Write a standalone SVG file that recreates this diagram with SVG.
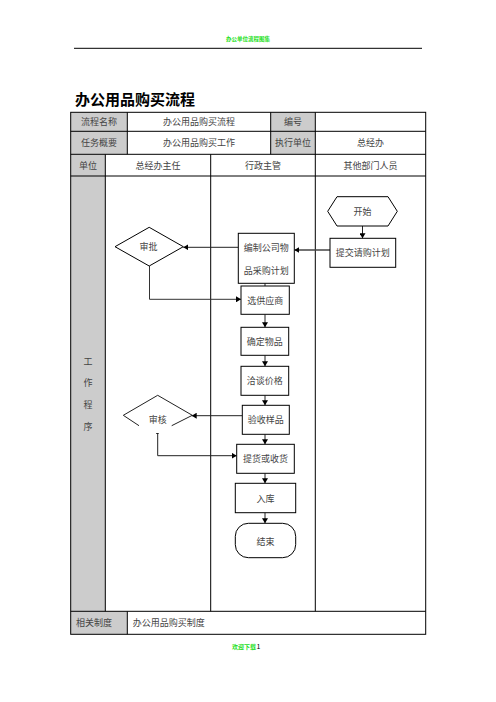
<svg xmlns="http://www.w3.org/2000/svg" width="496" height="702" viewBox="0 0 496 702">
<style>
text{font-family:"Noto Sans CJK SC","Noto Sans",sans-serif;}
.t{font-size:9px;fill:#444;text-anchor:middle;dominant-baseline:central;}
.tl{font-size:9px;fill:#444;dominant-baseline:central;}
.g{fill:#cccccc;}
.b{fill:none;stroke:#000;stroke-width:1;}
.n{fill:#fff;stroke:#000;stroke-width:1;}
.c{fill:none;stroke:#222;stroke-width:1;}
.green{fill:#22e01a;font-weight:bold;text-anchor:middle;}
</style>
<defs>
<marker id="ah" markerWidth="6" markerHeight="6" refX="5" refY="3" orient="auto" markerUnits="userSpaceOnUse">
<path d="M0,0 L5,3 L0,6 Z" fill="#000"/>
</marker>
</defs>
<rect width="496" height="702" fill="#fff"/>
<g id="page-header">
<text class="green" x="248" y="41" font-size="5.5">办公单位流程图集</text>
<line x1="74" y1="48.3" x2="422" y2="48.3" stroke="#000" stroke-width="1"/>
</g>
<g id="title">
<text x="75" y="105" font-size="15" font-weight="bold" fill="#000">办公用品购买流程</text>
</g>
<g id="table">
<rect class="g" x="70.7" y="112.3" width="56.6" height="42"/>
<rect class="g" x="270.7" y="112.3" width="44.6" height="42"/>
<rect class="g" x="70.7" y="154.3" width="34.6" height="457"/>
<rect class="g" x="70.7" y="611.3" width="56.6" height="23"/>
<rect class="b" x="70.7" y="112.3" width="355" height="522"/>
<line class="b" x1="70.7" y1="131.3" x2="425.7" y2="131.3"/>
<line class="b" x1="70.7" y1="154.3" x2="425.7" y2="154.3"/>
<line class="b" x1="70.7" y1="176" x2="425.7" y2="176"/>
<line class="b" x1="70.7" y1="611.3" x2="425.7" y2="611.3"/>
<line class="b" x1="127.3" y1="112.3" x2="127.3" y2="154.3"/>
<line class="b" x1="270.7" y1="112.3" x2="270.7" y2="154.3"/>
<line class="b" x1="315.3" y1="112.3" x2="315.3" y2="611.3"/>
<line class="b" x1="105.3" y1="154.3" x2="105.3" y2="611.3"/>
<line class="b" x1="210.7" y1="154.3" x2="210.7" y2="611.3"/>
<line class="b" x1="127.3" y1="611.3" x2="127.3" y2="634.3"/>
<text class="t" x="99" y="121.8">流程名称</text>
<text class="t" x="199" y="121.8">办公用品购买流程</text>
<text class="t" x="293" y="121.8">编号</text>
<text class="t" x="99" y="142.8">任务概要</text>
<text class="t" x="199" y="142.8">办公用品购买工作</text>
<text class="t" x="293" y="142.8">执行单位</text>
<text class="t" x="370.5" y="142.8">总经办</text>
<text class="t" x="88" y="165">单位</text>
<text class="t" x="158" y="165">总经办主任</text>
<text class="t" x="263" y="165">行政主管</text>
<text class="t" x="370.5" y="165">其他部门人员</text>
<text class="t" x="88" y="361.7">工</text>
<text class="t" x="88" y="382.7">作</text>
<text class="t" x="88" y="404.3">程</text>
<text class="t" x="88" y="426.7">序</text>
<text class="tl" x="76" y="622.8">相关制度</text>
<text class="tl" x="132.7" y="622.8">办公用品购买制度</text>
</g>
<g id="connectors">
<line class="c" x1="362.5" y1="226" x2="362.5" y2="238.3" marker-end="url(#ah)"/>
<line x1="330" y1="250" x2="294.3" y2="250" stroke="#444" stroke-width="1.5" marker-end="url(#ah)"/>
<line class="c" x1="238.3" y1="247.3" x2="183.3" y2="247.3" marker-end="url(#ah)"/>
<polyline points="149.5,266 149.5,299.3 241,299.3" fill="none" stroke="#333" stroke-width="1" marker-end="url(#ah)"/>
<line class="c" x1="265" y1="283.3" x2="265" y2="286"/>
<line class="c" x1="265" y1="314.3" x2="265" y2="327.3" marker-end="url(#ah)"/>
<line class="c" x1="265" y1="355.3" x2="265" y2="366.3" marker-end="url(#ah)"/>
<line class="c" x1="265" y1="395.3" x2="265" y2="405.3" marker-end="url(#ah)"/>
<line class="c" x1="242.3" y1="415.7" x2="191.7" y2="415.7" marker-end="url(#ah)"/>
<line class="c" x1="265" y1="434.3" x2="265" y2="444.3" marker-end="url(#ah)"/>
<line class="c" x1="156.2" y1="433.5" x2="158.7" y2="433.5"/>
<polyline points="157.7,433.5 157.7,455.7 236.7,455.7" fill="none" stroke="#222" stroke-width="1" marker-end="url(#ah)"/>
<line class="c" x1="265" y1="473.3" x2="265" y2="483.3" marker-end="url(#ah)"/>
<line class="c" x1="265" y1="512.7" x2="265" y2="523.3" marker-end="url(#ah)"/>
</g>
<g id="start">
<polygon class="n" points="327.7,211.3 337,196.7 388,196.7 397.3,211.3 388,226 337,226"/>
<text class="t" x="362.5" y="211.3">开始</text>
</g>
<g id="submit-plan">
<rect class="n" x="330" y="238.3" width="65.7" height="29"/>
<text class="t" x="362.8" y="252.8">提交请购计划</text>
</g>
<g id="compile-plan">
<rect class="n" x="238.3" y="233.3" width="56" height="50"/>
<text class="t" x="266.3" y="247.7">编制公司物</text>
<text class="t" x="266.3" y="270">品采购计划</text>
</g>
<g id="approve">
<polygon class="n" points="115,246.7 149.2,227.3 183.3,246.7 149.2,266"/>
<text class="t" x="148.5" y="246.7">审批</text>
</g>
<g id="select-supplier">
<rect class="n" x="241" y="286" width="48.3" height="28.3"/>
<text class="t" x="265.2" y="300.2">选供应商</text>
</g>
<g id="confirm-items">
<rect class="n" x="241" y="327.3" width="47.7" height="28"/>
<text class="t" x="264.8" y="341.3">确定物品</text>
</g>
<g id="negotiate-price">
<rect class="n" x="241" y="366.3" width="47.7" height="29"/>
<text class="t" x="264.8" y="380.8">洽谈价格</text>
</g>
<g id="inspect-samples">
<rect class="n" x="242.3" y="405.3" width="47" height="29"/>
<text class="t" x="265.8" y="419.8">验收样品</text>
</g>
<g id="review">
<path class="c" d="M139,425.7 L123.3,415.3 L157.7,395.3 L192.3,415.3 L171.7,425.7"/>
<text class="t" x="157.7" y="419">审核</text>
</g>
<g id="pickup-receive">
<rect class="n" x="236.7" y="444.3" width="57.6" height="29"/>
<text class="t" x="265.5" y="458.8">提货或收货</text>
</g>
<g id="warehouse">
<rect class="n" x="235.3" y="483.3" width="60.4" height="29.4"/>
<text class="t" x="265.5" y="498.3">入库</text>
</g>
<g id="end">
<rect class="n" x="235.3" y="523.3" width="60.4" height="34.4" rx="13" ry="13"/>
<text class="t" x="265.5" y="541.5">结束</text>
</g>
<g id="page-footer">
<text class="green" x="244" y="649" font-size="6">欢迎下载</text>
<text x="256.5" y="649" font-size="7" fill="#000" font-family="Liberation Serif,serif">1</text>
</g>
</svg>
